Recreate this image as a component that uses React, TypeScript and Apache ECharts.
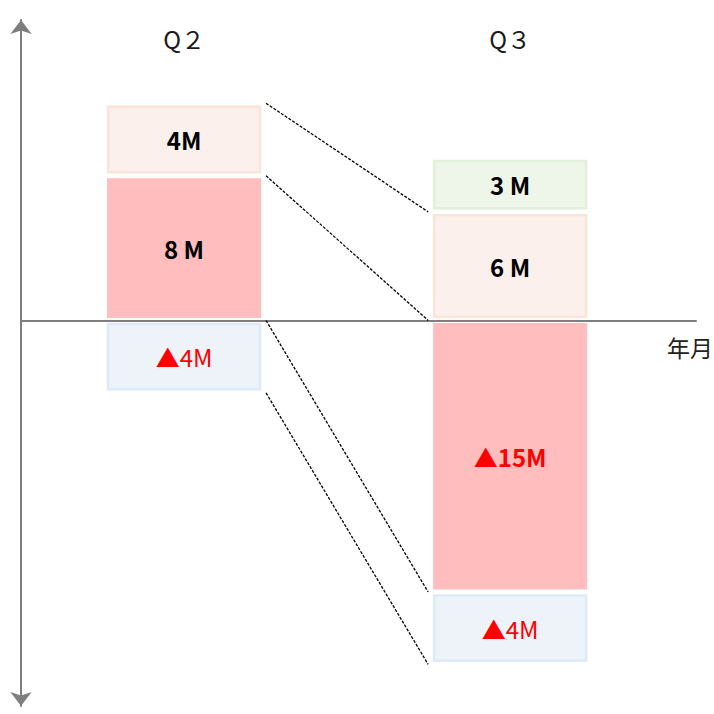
import { useEffect, useRef } from 'react';
import * as echarts from 'echarts';

// Quarters and their positions on the horizontal value axis
const QUARTERS = ['Q２', 'Q３'];
const QUARTER_POS = [1, 3];
const X_AXIS_NAME = '年月';

// Stacks above the zero line, listed from the line upward (M)
const UP_VALUES = [[8, 4], [6, 3]];
const UP_LABELS = [['8 M', '4M'], ['6 M', '3 M']];
const UP_KINDS = [['pink', 'peach'], ['peach', 'green']];

// Stacks below the zero line, listed from the line downward (M)
const DOWN_VALUES = [[4], [15, 4]];
const DOWN_LABELS = [['▲4M'], ['▲15M', '▲4M']];
const DOWN_KINDS = [['blue'], ['pink', 'blue']];

const X_MAX = 4.14;
const Y_MIN = -21.3;
const Y_MAX = 16.6;

const FONT = "'Noto Sans CJK JP', 'Noto Sans', sans-serif";
const BAR_W = 154;
const INSET = 2.5;
const LINK_GAP = 5;

const KIND_STYLE: Record<string, { fill: string; stroke: string | null }> = {
  pink: { fill: '#FFBDBD', stroke: null },
  peach: { fill: '#FBF0EB', stroke: '#FBE5D6' },
  green: { fill: '#EEF6E9', stroke: '#E2EFDA' },
  blue: { fill: '#EEF3FA', stroke: '#DEEBF7' },
};

type Segment = {
  value: [number, number, number];
  label: string;
  kind: string;
  negative: boolean;
};

function boundaries(values: number[], sign: number): number[] {
  const out = [0];
  values.forEach((v) => out.push(out[out.length - 1] + sign * v));
  return out;
}

function buildSegments(): Segment[] {
  const segs: Segment[] = [];
  QUARTER_POS.forEach((x, q) => {
    const up = boundaries(UP_VALUES[q], 1);
    UP_VALUES[q].forEach((_, i) => {
      segs.push({ value: [x, up[i], up[i + 1]], label: UP_LABELS[q][i], kind: UP_KINDS[q][i], negative: false });
    });
    const down = boundaries(DOWN_VALUES[q], -1);
    DOWN_VALUES[q].forEach((_, i) => {
      segs.push({ value: [x, down[i], down[i + 1]], label: DOWN_LABELS[q][i], kind: DOWN_KINDS[q][i], negative: true });
    });
  });
  return segs;
}

// Dashed guides joining matching stack boundaries of the two quarters
function buildLinks(): number[][] {
  const [a, b] = QUARTER_POS;
  const upA = boundaries(UP_VALUES[0], 1);
  const upB = boundaries(UP_VALUES[1], 1);
  const downA = boundaries(DOWN_VALUES[0], -1);
  const downB = boundaries(DOWN_VALUES[1], -1);
  return [
    [a, upA[2], b, upB[1]],
    [a, upA[1], b, upB[0]],
    [a, downA[0], b, downB[1]],
    [a, downA[1], b, downB[2]],
  ];
}

export default function App() {
  const ref = useRef<HTMLDivElement>(null);

  useEffect(() => {
    if (!ref.current) return;
    const chart = echarts.init(ref.current, undefined, { renderer: 'svg' });
    const segments = buildSegments();
    const links = buildLinks();
    const axisColor = '#7F7F7F';

    chart.setOption({
      animation: false,
      backgroundColor: '#FFFFFF',
      grid: { left: 21, right: 18, top: 20, bottom: 8 },
      graphic: [
        {
          type: 'text',
          right: 1,
          top: 335,
          style: { text: X_AXIS_NAME, fontFamily: FONT, fontSize: 23, fill: '#222' },
        },
      ],
      xAxis: [
        {
          type: 'value',
          min: 0,
          max: X_MAX,
          axisLine: { show: true, onZero: true, lineStyle: { color: axisColor, width: 2 } },
          axisTick: { show: false },
          axisLabel: { show: false },
          splitLine: { show: false },
        },
        {
          type: 'value',
          position: 'top',
          min: 0,
          max: X_MAX,
          interval: 1,
          axisLine: { show: false, onZero: false },
          axisTick: { show: false },
          splitLine: { show: false },
          axisLabel: {
            margin: -18,
            verticalAlign: 'middle',
            fontFamily: FONT,
            fontSize: 24,
            color: '#1A1A1A',
            formatter: (v: number) => {
              const idx = QUARTER_POS.indexOf(v);
              return idx >= 0 ? QUARTERS[idx] : '';
            },
          },
        },
      ],
      yAxis: {
        type: 'value',
        min: Y_MIN,
        max: Y_MAX,
        axisLine: {
          show: true,
          onZero: false,
          symbol: ['arrow', 'arrow'],
          symbolSize: [16, 14],
          lineStyle: { color: axisColor, width: 2 },
        },
        axisTick: { show: false },
        axisLabel: { show: false },
        splitLine: { show: false },
      },
      series: [
        {
          type: 'custom',
          xAxisIndex: 0,
          yAxisIndex: 0,
          clip: false,
          encode: { x: [0, 2], y: [1, 3] },
          data: links,
          renderItem: (_params: any, api: any) => {
            const p1 = api.coord([api.value(0), api.value(1)]);
            const p2 = api.coord([api.value(2), api.value(3)]);
            return {
              type: 'line',
              shape: {
                x1: p1[0] + BAR_W / 2 + LINK_GAP,
                y1: p1[1],
                x2: p2[0] - BAR_W / 2 - LINK_GAP,
                y2: p2[1],
              },
              style: { stroke: '#000', lineWidth: 1.3, lineDash: [3, 1.5] },
            };
          },
        },
        {
          type: 'custom',
          xAxisIndex: 0,
          yAxisIndex: 0,
          clip: false,
          encode: { x: 0, y: [1, 2] },
          data: segments.map((s) => s.value),
          renderItem: (params: any, api: any) => {
            const seg = segments[params.dataIndex];
            const x = api.value(0);
            const a = api.coord([x, api.value(1)]);
            const b = api.coord([x, api.value(2)]);
            const top = Math.min(a[1], b[1]) + INSET;
            const bottom = Math.max(a[1], b[1]) - INSET;
            const ks = KIND_STYLE[seg.kind];
            const bordered = ks.stroke !== null;
            const boldText = !(seg.negative && seg.kind === 'blue');
            return {
              type: 'rect',
              shape: {
                x: a[0] - BAR_W / 2 + (bordered ? 1 : 0),
                y: top + (bordered ? 1 : 0),
                width: BAR_W - (bordered ? 2 : 0),
                height: bottom - top - (bordered ? 2 : 0),
              },
              style: {
                fill: ks.fill,
                stroke: bordered ? ks.stroke : null,
                lineWidth: bordered ? 2.5 : 0,
              },
              textContent: {
                style: {
                  text: seg.label,
                  fill: seg.negative ? '#FF0000' : '#000000',
                  fontFamily: FONT,
                  fontSize: 24,
                  fontWeight: boldText ? 'bold' : 'normal',
                },
              },
              textConfig: { position: 'inside' },
            };
          },
        },
      ],
    });

    return () => chart.dispose();
  }, []);

  return (
    <div
      ref={ref}
      style={{ position: 'fixed', left: 0, top: 0, width: 714, height: 714, background: '#fff' }}
    />
  );
}
